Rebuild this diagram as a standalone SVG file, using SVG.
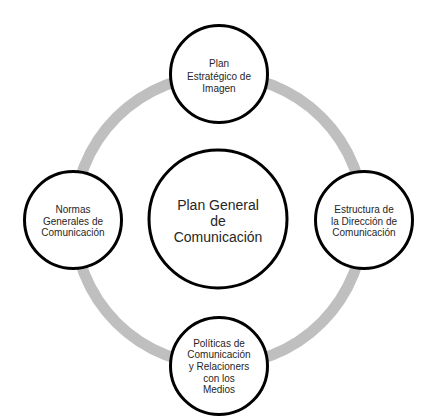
<svg xmlns="http://www.w3.org/2000/svg" width="438" height="419" viewBox="0 0 438 419">
<style>
.node{fill:#fff;stroke:#000;stroke-width:3}
.t{font-family:"Liberation Sans",Arial,sans-serif;font-size:10px;fill:#262626;text-anchor:middle}
.tc{font-family:"Liberation Sans",Arial,sans-serif;font-size:14px;fill:#262626;text-anchor:middle}
</style>
<rect width="438" height="419" fill="#fff"/>
<g id="connectors">
<circle cx="219" cy="220" r="145" fill="none" stroke="#bfbfbf" stroke-width="11"/>
</g>
<g id="center">
<circle class="node" cx="218" cy="219" r="69" stroke-width="2.5"/>
<text class="tc" x="218" y="210">Plan General</text>
<text class="tc" x="218" y="226">de</text>
<text class="tc" x="218" y="242">Comunicación</text>
</g>
<g id="top">
<circle class="node" cx="219" cy="74" r="48.5"/>
<text class="t" x="219" y="67">Plan</text>
<text class="t" x="219" y="80">Estratégico de</text>
<text class="t" x="219" y="92">Imagen</text>
</g>
<g id="right">
<circle class="node" cx="364" cy="220" r="48.5"/>
<text class="t" x="364" y="213">Estructura de</text>
<text class="t" x="364" y="225">la Dirección de</text>
<text class="t" x="364" y="236">Comunicación</text>
</g>
<g id="bottom">
<circle class="node" cx="219" cy="366" r="48.5"/>
<text class="t" x="219" y="347">Políticas de</text>
<text class="t" x="219" y="358">Comunicación</text>
<text class="t" x="219" y="370">y Relacioners</text>
<text class="t" x="219" y="382">con los</text>
<text class="t" x="219" y="393">Medios</text>
</g>
<g id="left">
<circle class="node" cx="73" cy="220" r="48.5"/>
<text class="t" x="73" y="213">Normas</text>
<text class="t" x="73" y="225">Generales de</text>
<text class="t" x="73" y="236">Comunicación</text>
</g>
</svg>
